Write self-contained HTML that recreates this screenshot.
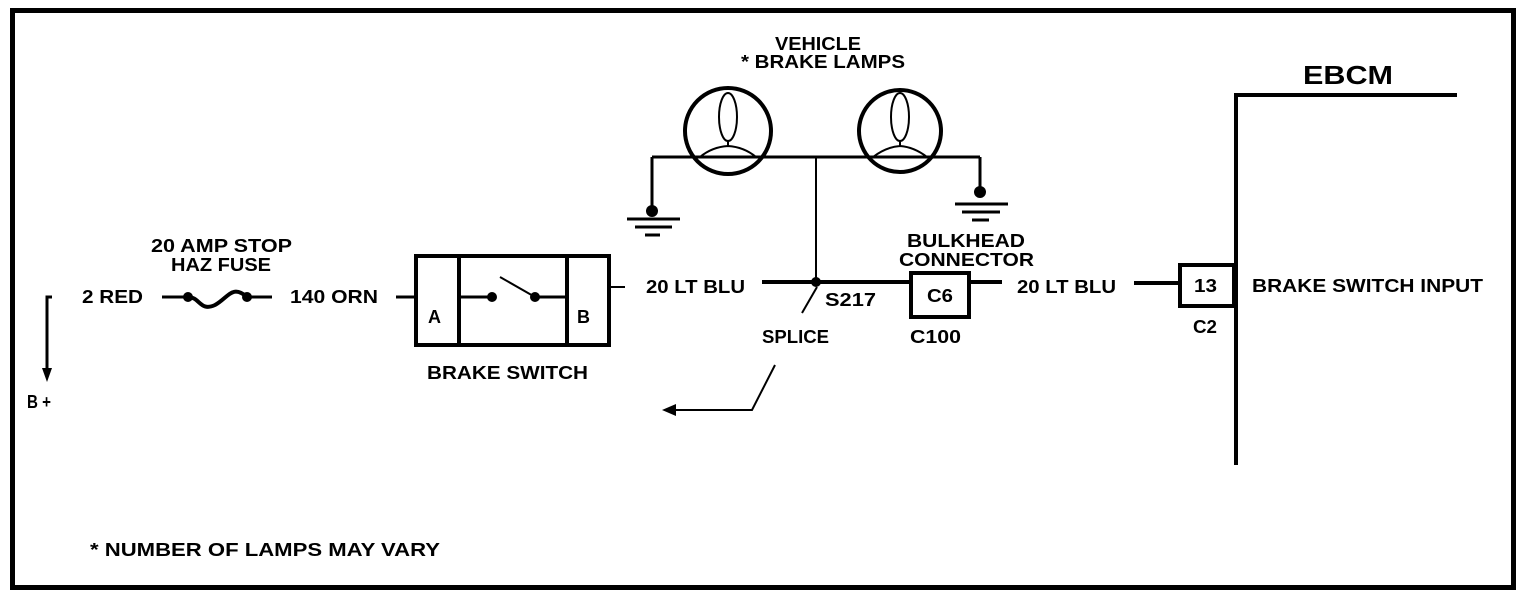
<!DOCTYPE html>
<html><head><meta charset="utf-8"><style>
html,body{margin:0;padding:0;background:#fff;}
svg{display:block;}
text{font-family:"Liberation Sans",sans-serif;font-weight:bold;font-size:18px;fill:#000;}
</style></head><body>
<svg width="1536" height="598" viewBox="0 0 1536 598" xmlns="http://www.w3.org/2000/svg">
<rect x="12.5" y="10.5" width="1501" height="577" fill="none" stroke="#000" stroke-width="5"/>
<g stroke="#000" fill="none" stroke-width="3">
<polyline points="52,297 47,297 47,374"/>
<line x1="162" y1="297" x2="188" y2="297"/>
<path d="M188,297 C200,297 200,312 215,305 C228,298 232,284 247,297" stroke-width="4"/>
<line x1="247" y1="297" x2="272" y2="297"/>
<line x1="396" y1="297" x2="416" y2="297"/>
<rect x="416" y="256" width="193" height="89" stroke-width="4"/>
<line x1="459" y1="256" x2="459" y2="345" stroke-width="4"/>
<line x1="567" y1="256" x2="567" y2="345" stroke-width="4"/>
<line x1="459" y1="297" x2="492" y2="297"/>
<line x1="535" y1="297" x2="567" y2="297"/>
<line x1="535" y1="297" x2="500" y2="277" stroke-width="2"/>
<line x1="609" y1="287" x2="625" y2="287" stroke-width="2"/>
<circle cx="728" cy="131" r="43" stroke-width="4"/>
<circle cx="900" cy="131" r="41" stroke-width="4"/>
<ellipse cx="728" cy="117" rx="9" ry="24" stroke-width="2"/>
<ellipse cx="900" cy="117" rx="9" ry="24" stroke-width="2"/>
<path d="M700,157 Q712,147 728,146 Q744,147 756,157 M728,141 L728,146" stroke-width="2"/>
<path d="M873,157 Q886,147 900,146 Q914,147 927,157 M900,141 L900,146" stroke-width="2"/>
<line x1="652" y1="157" x2="980" y2="157"/>
<line x1="652" y1="157" x2="652" y2="212"/>
<line x1="980" y1="157" x2="980" y2="193"/>
<line x1="627" y1="219" x2="680" y2="219"/>
<line x1="635" y1="227" x2="672" y2="227"/>
<line x1="645" y1="235" x2="660" y2="235"/>
<line x1="955" y1="204" x2="1008" y2="204"/>
<line x1="962" y1="212" x2="1000" y2="212"/>
<line x1="972" y1="220" x2="989" y2="220"/>
<line x1="816" y1="157" x2="816" y2="282" stroke-width="2"/>
<line x1="762" y1="282" x2="910" y2="282" stroke-width="4"/>
<line x1="817" y1="287" x2="802" y2="313" stroke-width="2"/>
<polyline points="775,365 752,410 670,410" stroke-width="2"/>
<rect x="911" y="273" width="58" height="44" stroke-width="4"/>
<line x1="970" y1="282" x2="1002" y2="282" stroke-width="4"/>
<line x1="1134" y1="283" x2="1180" y2="283" stroke-width="4"/>
<rect x="1180" y="265" width="54" height="41" stroke-width="4"/>
<polyline points="1457,95 1236,95 1236,465" stroke-width="4"/>
</g>
<g fill="#000">
<polygon points="42,368 52,368 47,382"/>
<circle cx="188" cy="297" r="5"/><circle cx="247" cy="297" r="5"/>
<circle cx="492" cy="297" r="5"/><circle cx="535" cy="297" r="5"/>
<circle cx="652" cy="211" r="6"/><circle cx="980" cy="192" r="6"/>
<circle cx="816" cy="282" r="5"/>
<polygon points="662,410 676,404 676,416"/>
</g>
<text x="27" y="408" textLength="24" lengthAdjust="spacingAndGlyphs">B +</text>
<text x="82" y="303" textLength="61" lengthAdjust="spacingAndGlyphs">2 RED</text>
<text x="151" y="252" textLength="141" lengthAdjust="spacingAndGlyphs">20 AMP STOP</text>
<text x="171" y="271" textLength="100" lengthAdjust="spacingAndGlyphs">HAZ FUSE</text>
<text x="290" y="303" textLength="88" lengthAdjust="spacingAndGlyphs">140 ORN</text>
<text x="428" y="323" textLength="13" lengthAdjust="spacingAndGlyphs">A</text>
<text x="577" y="323" textLength="13" lengthAdjust="spacingAndGlyphs">B</text>
<text x="427" y="379" textLength="161" lengthAdjust="spacingAndGlyphs">BRAKE SWITCH</text>
<text x="775" y="50" textLength="86" lengthAdjust="spacingAndGlyphs">VEHICLE</text>
<text x="741" y="68" textLength="164" lengthAdjust="spacingAndGlyphs">* BRAKE LAMPS</text>
<text x="646" y="293" textLength="99" lengthAdjust="spacingAndGlyphs">20 LT BLU</text>
<text x="825" y="306" textLength="51" lengthAdjust="spacingAndGlyphs">S217</text>
<text x="762" y="343" textLength="67" lengthAdjust="spacingAndGlyphs">SPLICE</text>
<text x="907" y="247" textLength="118" lengthAdjust="spacingAndGlyphs">BULKHEAD</text>
<text x="899" y="266" textLength="135" lengthAdjust="spacingAndGlyphs">CONNECTOR</text>
<text x="927" y="302" textLength="26" lengthAdjust="spacingAndGlyphs">C6</text>
<text x="910" y="343" textLength="51" lengthAdjust="spacingAndGlyphs">C100</text>
<text x="1017" y="293" textLength="99" lengthAdjust="spacingAndGlyphs">20 LT BLU</text>
<text x="1194" y="292" textLength="23" lengthAdjust="spacingAndGlyphs">13</text>
<text x="1193" y="333" textLength="24" lengthAdjust="spacingAndGlyphs">C2</text>
<text x="1252" y="292" textLength="231" lengthAdjust="spacingAndGlyphs">BRAKE SWITCH INPUT</text>
<text x="1303" y="84" style="font-size:26px" textLength="90" lengthAdjust="spacingAndGlyphs">EBCM</text>
<text x="90" y="556" textLength="350" lengthAdjust="spacingAndGlyphs">* NUMBER OF LAMPS MAY VARY</text>
</svg>
</body></html>
